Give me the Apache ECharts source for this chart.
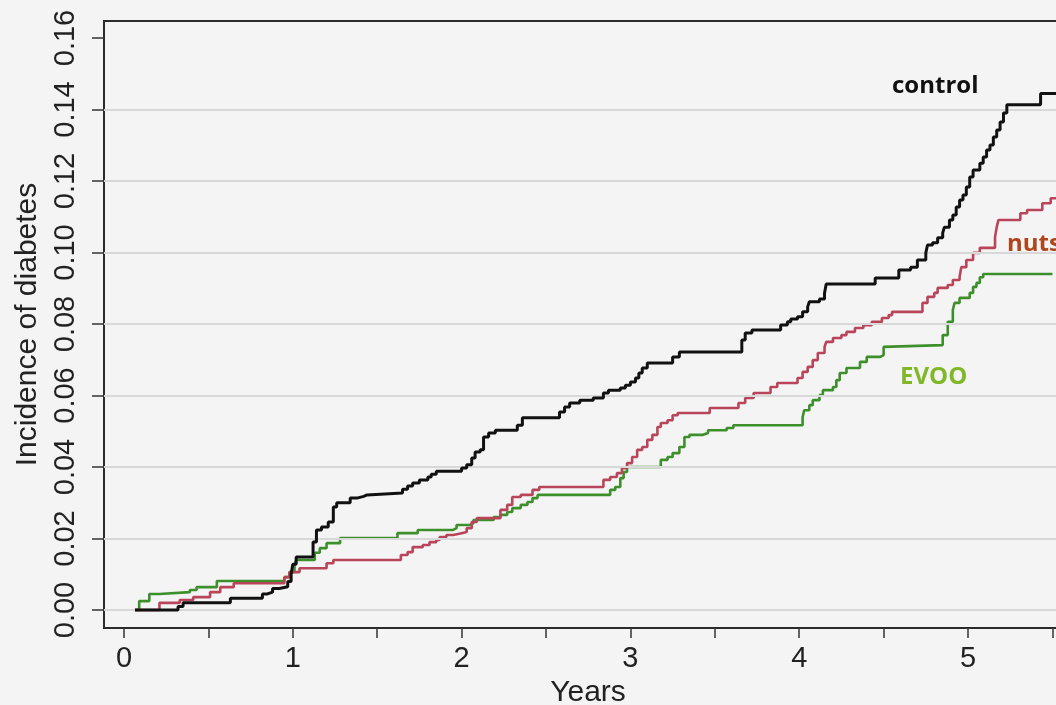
<!DOCTYPE html>
<html>
<head>
<meta charset="utf-8">
<script src="https://cdn.jsdelivr.net/npm/echarts@6/dist/echarts.min.js"></script>
<style>
html,body{margin:0;padding:0;background:#f4f4f4;}
#main{width:1056px;height:705px;}
</style>
</head>
<body>
<div id="main"></div>
<script>
// ---- data ----
const xTickValues = [0, 0.5, 1, 1.5, 2, 2.5, 3, 3.5, 4, 4.5, 5, 5.5];
const xLabelValues = [0, 1, 2, 3, 4, 5];
const yTickValues = [0, 0.02, 0.04, 0.06, 0.08, 0.10, 0.12, 0.14, 0.16];
const gridValues = [0, 0.02, 0.04, 0.06, 0.08, 0.10, 0.12, 0.14];

const controlT = [0.065,0.32,0.35,0.63,0.82,0.85,0.88,0.92,0.97,0.99,1.00,1.02,1.12,1.14,1.17,1.21,1.24,1.26,1.34,1.38,1.42,1.44,1.65,1.68,1.71,1.75,1.80,1.82,1.85,2.00,2.03,2.06,2.08,2.11,2.13,2.16,2.20,2.33,2.36,2.58,2.61,2.64,2.70,2.78,2.84,2.87,2.94,2.97,3.00,3.03,3.05,3.07,3.10,3.25,3.29,3.66,3.68,3.72,3.89,3.93,3.95,3.99,4.02,4.05,4.06,4.12,4.15,4.16,4.45,4.59,4.66,4.70,4.75,4.76,4.79,4.82,4.85,4.86,4.89,4.91,4.93,4.95,4.97,4.99,5.01,5.03,5.07,5.09,5.11,5.13,5.15,5.17,5.19,5.21,5.23,5.43,5.60];
const controlV = [0,0.001,0.002,0.0033,0.0045,0.005,0.006,0.0065,0.008,0.010,0.0128,0.0148,0.019,0.0224,0.0232,0.0246,0.0288,0.030,0.0313,0.0318,0.0322,0.0327,0.0338,0.0347,0.0355,0.0364,0.0372,0.038,0.0388,0.0397,0.0406,0.0425,0.0442,0.0448,0.0484,0.0495,0.0503,0.0517,0.0538,0.0554,0.0568,0.0579,0.0587,0.0593,0.0607,0.0615,0.0621,0.0629,0.0638,0.0649,0.0663,0.0677,0.0691,0.0708,0.0722,0.0755,0.0775,0.0783,0.0797,0.0806,0.0814,0.082,0.0834,0.0848,0.0862,0.087,0.0887,0.0912,0.0929,0.0951,0.0959,0.0979,0.0999,0.1021,0.1027,0.1041,0.1055,0.1071,0.1091,0.1105,0.1127,0.1147,0.1161,0.1183,0.1211,0.1231,0.125,0.1267,0.1287,0.1301,0.1323,0.1343,0.1365,0.139,0.1413,0.1445,0.1445];

const nutsT = [0.065,0.21,0.33,0.41,0.51,0.57,0.65,0.95,0.98,1.04,1.20,1.24,1.64,1.68,1.71,1.77,1.81,1.85,1.87,1.91,1.95,2.00,2.03,2.06,2.09,2.23,2.27,2.30,2.35,2.42,2.46,2.84,2.88,2.92,2.95,2.98,3.01,3.04,3.07,3.10,3.13,3.16,3.18,3.22,3.25,3.28,3.47,3.64,3.68,3.73,3.83,3.87,3.99,4.02,4.05,4.08,4.11,4.15,4.16,4.20,4.25,4.28,4.33,4.38,4.43,4.49,4.53,4.55,4.73,4.76,4.80,4.82,4.88,4.91,4.95,4.96,4.99,5.03,5.07,5.16,5.17,5.18,5.31,5.35,5.44,5.49,5.60];
const nutsV = [0,0.002,0.0028,0.0036,0.005,0.0064,0.0075,0.0092,0.0106,0.0117,0.0131,0.014,0.0154,0.0162,0.0176,0.0182,0.019,0.0196,0.0204,0.021,0.0215,0.0218,0.0229,0.0246,0.0257,0.028,0.0294,0.0316,0.0322,0.0336,0.0344,0.0364,0.0372,0.0383,0.0397,0.0411,0.0428,0.0448,0.0456,0.0476,0.049,0.0512,0.0523,0.0531,0.0545,0.0551,0.0565,0.0579,0.0593,0.0607,0.0624,0.0635,0.0649,0.0666,0.068,0.0699,0.0719,0.0736,0.075,0.0761,0.0769,0.0778,0.0789,0.0797,0.0806,0.0817,0.0825,0.0834,0.0859,0.0876,0.0887,0.0901,0.0909,0.0923,0.0931,0.0959,0.0979,0.0999,0.1013,0.1043,0.1071,0.1091,0.111,0.1119,0.1138,0.1152,0.1152];

const evooT = [0.065,0.09,0.15,0.21,0.39,0.43,0.55,0.95,0.98,1.01,1.02,1.13,1.16,1.20,1.28,1.62,1.74,1.95,1.97,2.05,2.07,2.19,2.23,2.27,2.30,2.35,2.39,2.42,2.45,2.88,2.91,2.94,2.96,2.98,3.18,3.22,3.25,3.29,3.32,3.35,3.43,3.46,3.57,3.61,4.02,4.03,4.06,4.08,4.12,4.14,4.20,4.22,4.24,4.28,4.36,4.40,4.48,4.50,4.51,4.85,4.88,4.91,4.92,4.95,5.01,5.03,5.05,5.07,5.09,5.50];
const evooV = [0,0.0025,0.0045,0.005,0.0056,0.0064,0.0081,0.0092,0.0106,0.0126,0.014,0.016,0.0173,0.0187,0.0201,0.0215,0.0224,0.0229,0.0238,0.0243,0.0252,0.026,0.0266,0.0274,0.0285,0.0294,0.0302,0.0313,0.0322,0.0336,0.0344,0.0369,0.0386,0.04,0.042,0.0428,0.0439,0.0456,0.0484,0.049,0.0495,0.0503,0.0509,0.0517,0.054,0.0559,0.0573,0.0587,0.0601,0.0615,0.0624,0.0643,0.0663,0.0677,0.0694,0.0708,0.0713,0.0736,0.0741,0.0769,0.0806,0.0839,0.0859,0.0873,0.0887,0.0904,0.0915,0.0931,0.094,0.094];

const seriesNames = ['control', 'nuts', 'EVOO'];

// ---- build ----
const zip = (t, v) => t.map((x, i) => [x, v[i]]);
const axisFont = '"Liberation Sans", Arial, Helvetica, sans-serif';
const chart = echarts.init(document.getElementById('main'), null, {renderer: 'canvas'});

const option = {
  animation: false,
  backgroundColor: '#f4f4f4',
  grid: {
    left: 104, top: 21, width: 968, height: 607,
    outerBoundsMode: 'none', containLabel: false,
    show: true, borderColor: '#2b2b2b', borderWidth: 2, backgroundColor: 'transparent'
  },
  xAxis: {
    type: 'value', min: -0.1185, max: 5.616,
    axisLine: {show: false, onZero: false},
    axisTick: {show: true, customValues: xTickValues, length: 10, lineStyle: {color: '#333', width: 1.5}},
    axisLabel: {customValues: xLabelValues, fontSize: 29, color: '#222', margin: 16, fontFamily: axisFont},
    splitLine: {show: false},
    name: 'Years', nameLocation: 'middle', nameGap: 46,
    nameTextStyle: {fontSize: 30, color: '#222', fontFamily: axisFont}
  },
  yAxis: {
    type: 'value', min: -0.00503, max: 0.16476,
    axisLine: {show: false, onZero: false},
    axisTick: {show: true, customValues: yTickValues, length: 12, lineStyle: {color: '#333', width: 1.5}},
    axisLabel: {customValues: yTickValues, rotate: 90, fontSize: 29, color: '#222', margin: 24,
      fontFamily: axisFont, formatter: v => v.toFixed(2)},
    splitLine: {show: false},
    name: 'Incidence of diabetes', nameLocation: 'middle', nameRotate: 90, nameGap: 57,
    nameTextStyle: {fontSize: 30, color: '#222', fontFamily: axisFont}
  },
  series: [
    {
      type: 'line', data: [], z: 1, silent: true,
      markLine: {
        silent: true, symbol: 'none', animation: false,
        label: {show: false},
        lineStyle: {color: '#d8d8d8', width: 2, type: 'solid'},
        data: gridValues.map(v => ({yAxis: v}))
      }
    },
    {name: seriesNames[2], type: 'line', step: 'end', showSymbol: false, z: 3,
      lineStyle: {color: '#3d8f2b', width: 2.6}, data: zip(evooT, evooV)},
    {name: seriesNames[1], type: 'line', step: 'end', showSymbol: false, z: 4,
      lineStyle: {color: '#b8455a', width: 2.6}, data: zip(nutsT, nutsV)},
    {name: seriesNames[0], type: 'line', step: 'end', showSymbol: false, z: 5,
      lineStyle: {color: '#111111', width: 3}, data: zip(controlT, controlV)}
  ],
  graphic: [
    {type: 'text', left: 892, top: 74, z: 10,
      style: {text: seriesNames[0], fill: '#111', font: 'bold 24px "Open Sans", sans-serif'}},
    {type: 'text', left: 1007, top: 232, z: 10,
      style: {text: seriesNames[1], fill: '#b0441c', font: 'bold 24px "Open Sans", sans-serif'}},
    {type: 'text', left: 900, top: 365, z: 10,
      style: {text: seriesNames[2], fill: '#80b82a', font: 'bold 24px "Open Sans", sans-serif'}}
  ]
};
chart.setOption(option);
</script>
</body>
</html>
